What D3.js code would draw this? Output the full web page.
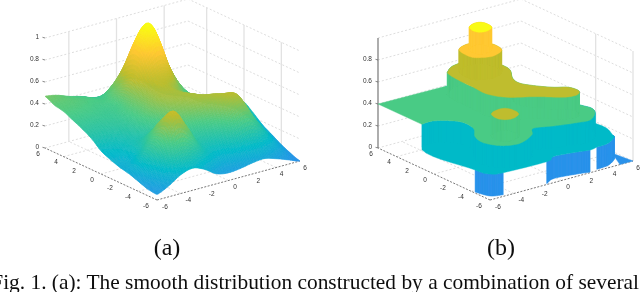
<!DOCTYPE html>
<html>
<head>
<meta charset="utf-8">
<script src="https://cdn.jsdelivr.net/npm/d3@7"></script>
<style>
  html, body { margin: 0; padding: 0; background: #fff; overflow: hidden; }
  text { user-select: none; }
</style>
</head>
<body>
<div id="main-section"></div>
<script>
const axisValues = [-6, -4, -2, 0, 2, 4, 6];
const gridValues = [-4, 0, 4];
const zTicksA = [0, 0.2, 0.4, 0.6, 0.8, 1];
const zTicksB = [0, 0.2, 0.4, 0.6, 0.8];
const wallYTicksB = [-2, -6];
const levelColors = ["#2a92ea", "#04bac8", "#4acb85", "#bfbd2d", "#ffc832", "#f9fb15"];
const levelZ = [0, 0.2, 0.4, 0.6, 0.8, 1];

// smooth surface: rows y = -6 .. 6, columns x = -6 .. 6
const surfaceZ = [
  [0.05, 0.10, 0.17, 0.20, 0.16, 0.09, 0.07, 0.08, 0.10, 0.11, 0.08, 0.04, 0.00],
  [0.06, 0.15, 0.31, 0.36, 0.30, 0.22, 0.17, 0.19, 0.22, 0.24, 0.20, 0.12, 0.03],
  [0.09, 0.22, 0.42, 0.62, 0.48, 0.30, 0.27, 0.31, 0.41, 0.46, 0.33, 0.19, 0.07],
  [0.12, 0.24, 0.40, 0.55, 0.46, 0.36, 0.37, 0.44, 0.55, 0.58, 0.39, 0.22, 0.12],
  [0.14, 0.18, 0.30, 0.42, 0.40, 0.44, 0.49, 0.55, 0.57, 0.51, 0.38, 0.26, 0.17],
  [0.17, 0.20, 0.26, 0.31, 0.40, 0.51, 0.55, 0.56, 0.49, 0.42, 0.36, 0.30, 0.24],
  [0.21, 0.23, 0.27, 0.33, 0.44, 0.55, 0.57, 0.53, 0.44, 0.38, 0.35, 0.33, 0.30],
  [0.28, 0.29, 0.31, 0.35, 0.44, 0.55, 0.60, 0.54, 0.44, 0.37, 0.34, 0.33, 0.30],
  [0.33, 0.33, 0.34, 0.36, 0.44, 0.56, 0.66, 0.68, 0.50, 0.38, 0.32, 0.31, 0.27],
  [0.37, 0.37, 0.37, 0.37, 0.42, 0.61, 0.84, 0.93, 0.64, 0.42, 0.30, 0.26, 0.22],
  [0.41, 0.41, 0.40, 0.39, 0.42, 0.55, 0.87, 1.00, 0.76, 0.42, 0.27, 0.22, 0.18],
  [0.43, 0.43, 0.42, 0.40, 0.38, 0.48, 0.62, 0.68, 0.54, 0.36, 0.25, 0.19, 0.15],
  [0.47, 0.45, 0.41, 0.38, 0.34, 0.33, 0.38, 0.42, 0.38, 0.28, 0.20, 0.16, 0.12]
];

// panel (b) outlines, [x, y] in data units
const cyanOutline = [[-6, 1.3], [-5.88, -4.25], [-5.54, -5.42], [-4.7, -5.76], [-1.14, -5.88], [-0.22, -5.41], [1.29, -5.62], [2.48, -5.9], [3.14, -5.77], [4.21, -5.64], [5.2, -5.0], [5.39, -4.6], [5.83, -3.4], [5.78, -2.21], [5.2, 0], [2, 2]];
const blueWallA = [[-5.88, -4.25], [-5.54, -5.42], [-4.7, -5.76]];
const blueWallB = [[-1.14, -5.88], [-0.22, -5.41], [1.29, -5.62], [2.48, -5.9]];
const blueWallC = [[3.14, -5.77], [4.21, -5.64], [5.2, -5.0], [5.39, -4.6]];
const blueCorner = [[5.8, -4.0], [6, -6], [4.9, -6]];
const greenFront = [[-6, 1.3], [-4.89, 1.31], [-3.68, 0.18], [-3.73, -1.31], [-4.59, -2.6], [-4.84, -3.8], [-4.21, -4.96], [-2.96, -5.34], [-1.4, -4.6], [-0.56, -3.69], [0.77, -4.15], [2.38, -4.6], [3.39, -4.74], [4.41, -3.95], [4.81, -3.09], [4.57, -2.15], [4, 0], [2.5, 3], [-0.4, 5.9]];
const greenCorner = [[-6, 6]];
const oliveOutline = [[-1.37, 4.37], [-1.55, 2.9], [-1.56, 1.45], [-1.61, -0.05], [-0.94, -1.32], [0.72, -2.43], [2.06, -3.57], [3.03, -3.77], [3.62, -3.22], [3.46, -2.31], [2.67, -1.72], [1.94, -0.87], [1.36, 0.18], [1.54, 1.2], [2.35, 2.52], [2.48, 3.57], [2.2, 5], [1.4, 5.8], [0.41, 5.51], [-0.36, 5.31], [-1, 4.85]];
const bumpOutline = [[-3.65, -3.14], [-3.86, -3.99], [-3.58, -4.51], [-2.98, -4.64], [-2.2, -4.23], [-2.04, -3.43], [-2.28, -2.85], [-2.92, -2.78]];
const orangeOutline = [[-0.58, 4.24], [-0.76, 2.83], [-0.35, 2.3], [0.55, 2.01], [1.68, 2.55], [1.88, 3.71], [1.36, 4.48], [0.48, 4.76]];
const yellowOutline = [[0.05, 3.94], [-0.16, 3.24], [0.04, 2.79], [0.58, 2.69], [1.23, 3.05], [1.38, 3.77], [1.18, 4.24], [0.67, 4.3]];

const captionLabels = ["(a)", "(b)"];
const captionText = "Fig. 1. (a): The smooth distribution constructed by a combination of several";

const mainSVG = d3.select("#main-section")
  .append("svg")
    .attr("width", 640)
    .attr("height", 292)
    .style("display", "block")
    .style("background-color", "#ffffff");

// the reference is a soft, downscaled scan
mainSVG.append("defs")
  .append("filter")
    .attr("id", "soft")
    .attr("x", "-5%").attr("y", "-5%")
    .attr("width", "110%").attr("height", "110%")
    .append("feGaussianBlur")
      .attr("stdDeviation", 0.4);

const pageGroup = mainSVG.append("g").attr("filter", "url(#soft)");

// oblique projection of the matlab box, front corner is (x=-6, y=-6, z=0)
const xToH = d3.scaleLinear().domain([-6, 6]).range([0, 143]);
const xToV = d3.scaleLinear().domain([-6, 6]).range([0, -39]);
const yToH = d3.scaleLinear().domain([-6, 6]).range([0, -112]);
const yToV = d3.scaleLinear().domain([-6, 6]).range([0, -52]);
const zToV = d3.scaleLinear().domain([0, 1]).range([0, -110]);
const colorScale = d3.scaleLinear().domain(levelZ).range(levelColors).clamp(true);

function fn_project(x, y, z) {
  return [xToH(x) + yToH(y), xToV(x) + yToV(y) + zToV(z)];
}

function fn_poly(points) {
  return "M" + points.map(function(p) { return p[0].toFixed(2) + "," + p[1].toFixed(2); }).join("L") + "Z";
}

function fn_catmull(a, b, c, d, t) {
  return 0.5 * (2 * b + (c - a) * t + (2 * a - 5 * b + 4 * c - d) * t * t + (3 * b - a - 3 * c + d) * t * t * t);
}

// resample an outline so that curved edges and their walls share the same points
function fn_smooth(points, closed) {
  const n = points.length;
  const out = [];
  const segs = closed ? n : n - 1;
  const at = function(i) {
    return closed ? points[(i + n) % n] : points[Math.max(0, Math.min(n - 1, i))];
  };
  for (let i = 0; i < segs; i++) {
    for (let k = 0; k < 8; k++) {
      const t = k / 8;
      out.push([
        fn_catmull(at(i - 1)[0], at(i)[0], at(i + 1)[0], at(i + 2)[0], t),
        fn_catmull(at(i - 1)[1], at(i)[1], at(i + 1)[1], at(i + 2)[1], t)
      ]);
    }
  }
  if (!closed) { out.push(points[n - 1]); }
  return out;
}

function fn_drawBox(g, zTicks, verticalX, verticalY, showZAxis) {
  const gridColor = "#d4d4d4";
  const wallColor = "#e2e2e2";
  const axisColor = "#555555";
  const seg = function(p, q, color, width, dash) {
    g.append("line")
      .attr("x1", p[0]).attr("y1", p[1])
      .attr("x2", q[0]).attr("y2", q[1])
      .attr("stroke", color)
      .attr("stroke-width", width)
      .attr("stroke-dasharray", dash);
  };

  // dotted floor grid and the dotted rings on both back walls
  gridValues.forEach(function(v) {
    seg(fn_project(v, -6, 0), fn_project(v, 6, 0), gridColor, 0.8, "2,2");
    seg(fn_project(-6, v, 0), fn_project(6, v, 0), gridColor, 0.8, "2,2");
  });
  levelZ.forEach(function(z) {
    seg(fn_project(-6, 6, z), fn_project(6, 6, z), gridColor, 0.8, "2,2");
    seg(fn_project(6, 6, z), fn_project(6, -6, z), gridColor, 0.8, "2,2");
  });
  verticalX.forEach(function(v) { seg(fn_project(v, 6, 0), fn_project(v, 6, 1), wallColor, 1.3, null); });
  verticalY.forEach(function(v) { seg(fn_project(6, v, 0), fn_project(6, v, 1), wallColor, 1.3, null); });

  if (showZAxis) { seg(fn_project(-6, 6, 0), fn_project(-6, 6, 1), "#777777", 1.2, null); }

  seg(fn_project(-6, -6, 0), fn_project(6, -6, 0), axisColor, 0.8, "2,1.5");
  seg(fn_project(-6, -6, 0), fn_project(-6, 6, 0), axisColor, 0.8, "2,1.5");

  const label = function(pos, dx, dy, txt) {
    g.append("text")
      .attr("x", pos[0] + dx)
      .attr("y", pos[1] + dy)
      .attr("text-anchor", "middle")
      .attr("font-family", "'Liberation Sans', sans-serif")
      .attr("font-size", 6.5)
      .attr("fill", "#333333")
      .text(txt);
  };
  axisValues.forEach(function(v) {
    label(fn_project(v, -6, 0), d3.scaleLinear([-6, 6], [8, 5])(v), 8.5, v);
    label(fn_project(-6, v, 0), d3.scaleLinear([-6, 6], [-11, -7])(v), 7.5, v);
  });
  zTicks.forEach(function(z) {
    const p = fn_project(-6, 6, z);
    seg(p, [p[0] - 2.5, p[1] - 0.7], "#555555", 0.7, null);
    g.append("text")
      .attr("x", p[0] - 6)
      .attr("y", p[1] + 1.3)
      .attr("text-anchor", "end")
      .attr("font-family", "'Liberation Sans', sans-serif")
      .attr("font-size", 6.5)
      .attr("fill", "#333333")
      .text(z);
  });
}

function fn_drawSurface(g) {
  const steps = 8;
  const n = surfaceZ.length;
  const zAt = function(i, j) {
    return surfaceZ[Math.max(0, Math.min(n - 1, j))][Math.max(0, Math.min(n - 1, i))];
  };
  const fine = [];
  for (let j = 0; j <= (n - 1) * steps; j++) {
    const row = [];
    const j0 = Math.floor(j / steps);
    const tj = j / steps - j0;
    for (let i = 0; i <= (n - 1) * steps; i++) {
      const i0 = Math.floor(i / steps);
      const ti = i / steps - i0;
      const col = [-1, 0, 1, 2].map(function(dj) {
        return fn_catmull(zAt(i0 - 1, j0 + dj), zAt(i0, j0 + dj), zAt(i0 + 1, j0 + dj), zAt(i0 + 2, j0 + dj), ti);
      });
      row.push(fn_catmull(col[0], col[1], col[2], col[3], tj));
    }
    fine.push(row);
  }

  const toData = d3.scaleLinear().domain([0, (n - 1) * steps]).range([-6, 6]);
  const cells = [];
  // back corner first so that nearer cells paint over it
  for (let j = (n - 1) * steps - 1; j >= 0; j--) {
    for (let i = (n - 1) * steps - 1; i >= 0; i--) {
      cells.push({
        path: fn_poly([
          fn_project(toData(i), toData(j), fine[j][i]),
          fn_project(toData(i + 1), toData(j), fine[j][i + 1]),
          fn_project(toData(i + 1), toData(j + 1), fine[j + 1][i + 1]),
          fn_project(toData(i), toData(j + 1), fine[j + 1][i])
        ]),
        color: colorScale((fine[j][i] + fine[j][i + 1] + fine[j + 1][i] + fine[j + 1][i + 1]) / 4)
      });
    }
  }
  g.selectAll("path.cell")
    .data(cells).enter()
    .append("path")
      .attr("class", "cell")
      .attr("d", function(d) { return d.path; })
      .attr("fill", function(d) { return d.color; })
      .attr("stroke", function(d) { return d.color; })
      .attr("stroke-width", 0.6);
}

// all quads of one wall go in one path, separate ones leave hairline seams
function fn_wall(g, outline, zLow, zTop, color) {
  let d = "";
  for (let i = 0; i < outline.length - 1; i++) {
    let a = outline[i];
    let b = outline[i + 1];
    // keep every quad wound the same way on screen
    if (fn_project(b[0], b[1], 0)[0] < fn_project(a[0], a[1], 0)[0]) {
      a = outline[i + 1];
      b = outline[i];
    }
    d += fn_poly([
      fn_project(a[0], a[1], zTop),
      fn_project(b[0], b[1], zTop),
      fn_project(b[0], b[1], zLow),
      fn_project(a[0], a[1], zLow)
    ]);
  }
  g.append("path")
    .attr("d", d)
    .attr("fill", color)
    .attr("stroke", color)
    .attr("stroke-width", 0.5);
}

function fn_top(g, outline, z, color) {
  g.append("path")
    .attr("d", fn_poly(outline.map(function(p) { return fn_project(p[0], p[1], z); })))
    .attr("fill", color)
    .attr("stroke", color)
    .attr("stroke-width", 0.4);
}

// wall takes the colour of the level below it, top takes its own
function fn_level(g, points, level) {
  const outline = fn_smooth(points, true);
  fn_wall(g, outline.concat([outline[0]]), levelZ[level - 1], levelZ[level], levelColors[level - 1]);
  fn_top(g, outline, levelZ[level], levelColors[level]);
}

function fn_drawLevels(g) {
  fn_top(g, blueCorner, 0, levelColors[0]);
  [blueWallA, blueWallB, blueWallC].forEach(function(w) {
    fn_wall(g, fn_smooth(w, false), 0, 0.2, levelColors[0]);
  });
  fn_top(g, fn_smooth(cyanOutline, true), 0.2, levelColors[1]);

  const green = fn_smooth(greenFront, false);
  fn_wall(g, green, 0.2, 0.4, levelColors[1]);
  fn_top(g, green.concat(greenCorner), 0.4, levelColors[2]);

  fn_level(g, oliveOutline, 3);
  fn_level(g, bumpOutline, 3);
  fn_level(g, orangeOutline, 4);
  fn_level(g, yellowOutline, 5);
}

const panelA = pageGroup.append("g").attr("transform", "translate(157,200)");
fn_drawBox(panelA, zTicksA, gridValues, gridValues, false);
fn_drawSurface(panelA);

const panelB = pageGroup.append("g").attr("transform", "translate(490,200)");
fn_drawBox(panelB, zTicksB, [], wallYTicksB, true);
fn_drawLevels(panelB);

pageGroup.selectAll("text.sub")
  .data(captionLabels).enter()
  .append("text")
    .attr("class", "sub")
    .attr("x", function(d, i) { return i === 0 ? 167 : 501; })
    .attr("y", 255)
    .attr("text-anchor", "middle")
    .attr("font-family", "'Liberation Serif', serif")
    .attr("font-size", 24)
    .attr("fill", "#111111")
    .text(function(d) { return d; });

pageGroup.append("text")
  .attr("x", 639)
  .attr("y", 289)
  .attr("text-anchor", "end")
  .attr("font-family", "'Liberation Serif', serif")
  .attr("font-size", 21.4)
  .attr("fill", "#111111")
  .text(captionText);
</script>
</body>
</html>
